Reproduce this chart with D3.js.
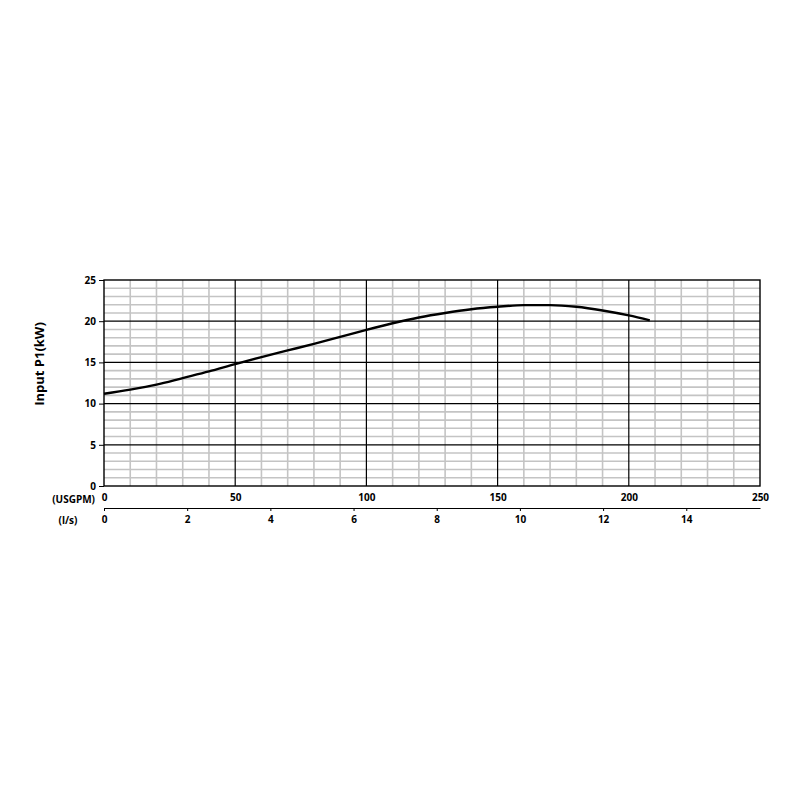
<!DOCTYPE html>
<html>
<head>
<meta charset="utf-8">
<script src="https://cdn.jsdelivr.net/npm/d3@7"></script>
<style>
  body { margin: 0; background: #fff; }
  text { font-family: "Open Sans", sans-serif; font-weight: bold; fill: #000; }
</style>
</head>
<body>
<svg id="chart"></svg>
<script>
// flow in USGPM and input power in kW
var flowUsgpm = [0, 10, 20, 30, 40, 50, 60, 70, 80, 90, 100, 110, 120, 130, 140, 150, 160, 170, 180, 190, 200, 208];
var powerKw = [11.2, 11.7, 12.3, 13.1, 13.9, 14.8, 15.65, 16.45, 17.25, 18.1, 18.95, 19.75, 20.45, 21.0, 21.45, 21.75, 21.95, 21.95, 21.75, 21.3, 20.7, 20.1];

var usgpmTicks = [0, 50, 100, 150, 200, 250];
var lsTicks = [0, 2, 4, 6, 8, 10, 12, 14];
var kwTicks = [0, 5, 10, 15, 20, 25];
var usgpmPerLs = 15.8503;

var margins = { top: 280, left: 104, right: 40, bottom: 314 };
var width = 800, height = 800;

var svg = d3.select("#chart")
  .attr("width", width)
  .attr("height", height);

var xScale = d3.scaleLinear()
  .domain([0, 250])
  .range([margins.left, width - margins.right]);

var yScale = d3.scaleLinear()
  .domain([0, 25])
  .range([height - margins.bottom, margins.top]);

var lsScale = d3.scaleLinear()
  .domain([0, 250 / usgpmPerLs])
  .range(xScale.range());

var x0 = xScale(0), x1 = xScale(250), y0 = yScale(0), y1 = yScale(25);

// minor grid
var grid = svg.append("g");
grid.selectAll(".hminor")
  .data(d3.range(1, 25).filter(function(d){ return d % 5 != 0; }))
  .enter().append("line")
  .attr("x1", x0).attr("x2", x1)
  .attr("y1", function(d){ return yScale(d); })
  .attr("y2", function(d){ return yScale(d); })
  .attr("stroke", "#c4c4c4").attr("stroke-width", 1.6);

grid.selectAll(".vminor")
  .data(d3.range(10, 250, 10).filter(function(d){ return d % 50 != 0; }))
  .enter().append("line")
  .attr("y1", y0).attr("y2", y1)
  .attr("x1", function(d){ return xScale(d); })
  .attr("x2", function(d){ return xScale(d); })
  .attr("stroke", "#c4c4c4").attr("stroke-width", 1.6);

// major grid
grid.selectAll(".hmajor")
  .data([5, 10, 15, 20])
  .enter().append("line")
  .attr("x1", x0).attr("x2", x1)
  .attr("y1", function(d){ return yScale(d); })
  .attr("y2", function(d){ return yScale(d); })
  .attr("stroke", "#000").attr("stroke-width", 1.2);

grid.selectAll(".vmajor")
  .data([50, 100, 150, 200])
  .enter().append("line")
  .attr("y1", y0).attr("y2", y1)
  .attr("x1", function(d){ return xScale(d); })
  .attr("x2", function(d){ return xScale(d); })
  .attr("stroke", "#000").attr("stroke-width", 1.2);

svg.append("rect")
  .attr("x", x0).attr("y", y1)
  .attr("width", x1 - x0).attr("height", y0 - y1)
  .attr("fill", "none").attr("stroke", "#000").attr("stroke-width", 1.4);

// y axis
var yAxis = d3.axisLeft(yScale).tickValues(kwTicks).tickSize(5).tickPadding(3);
var yG = svg.append("g")
  .attr("transform", "translate(" + x0 + ",0)")
  .call(yAxis);
yG.select(".domain").remove();
yG.selectAll("text").style("font-size", "10px");
yG.selectAll("line").attr("stroke", "#000");

// USGPM labels (no axis line)
var usAxis = d3.axisBottom(xScale).tickValues(usgpmTicks).tickSize(0).tickPadding(8);
var usG = svg.append("g")
  .attr("transform", "translate(0," + y0 + ")")
  .call(usAxis);
usG.select(".domain").remove();
usG.selectAll("text").style("font-size", "10px");

// l/s axis
var lsAxis = d3.axisBottom(lsScale).tickValues(lsTicks).tickSize(3).tickSizeOuter(0).tickPadding(5);
var lsG = svg.append("g")
  .attr("transform", "translate(0,508)")
  .call(lsAxis);
lsG.select(".domain").attr("stroke", "#000").attr("stroke-width", 1.2);
lsG.selectAll("text").style("font-size", "10px");

svg.append("text")
  .attr("x", 95).attr("y", 503)
  .attr("text-anchor", "end")
  .style("font-size", "10px")
  .text("(USGPM)");

svg.append("text")
  .attr("x", 68).attr("y", 524)
  .attr("text-anchor", "middle")
  .style("font-size", "10px")
  .text("(l/s)");

svg.append("text")
  .attr("transform", "translate(44,364) rotate(-90)")
  .attr("text-anchor", "middle")
  .style("font-size", "13px")
  .text("Input P1(kW)");

// curve
var drawLine = d3.line()
  .x(function(d, i){ return xScale(flowUsgpm[i]); })
  .y(function(d){ return yScale(d); })
  .curve(d3.curveMonotoneX);

svg.append("path")
  .datum(powerKw)
  .attr("d", drawLine)
  .attr("fill", "none")
  .attr("stroke", "#000")
  .attr("stroke-width", 2.4);
</script>
</body>
</html>
